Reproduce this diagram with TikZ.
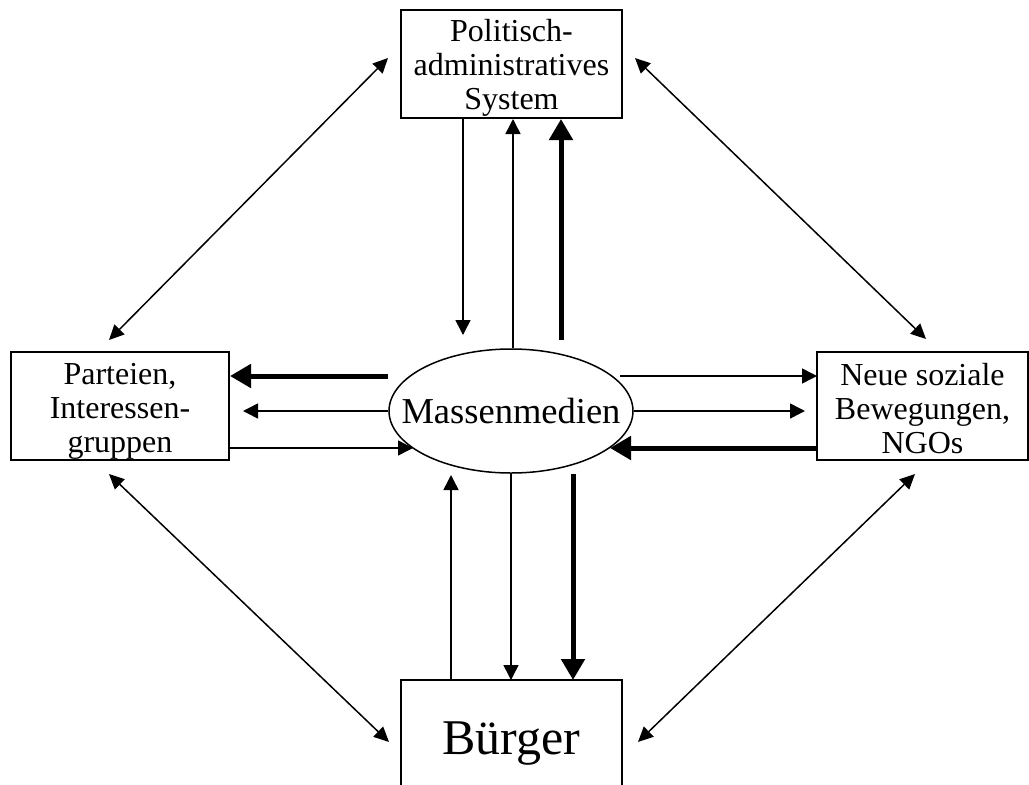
\documentclass[tikz,border=0pt]{standalone}
\usepackage{fontspec}
\setmainfont{Liberation Serif}
\usetikzlibrary{arrows.meta,shapes.geometric}
\tikzset{
  box/.style={draw, line width=1.5pt, rectangle, inner sep=0pt},
  boxtext/.style={inner sep=0pt, align=center, font=\fontsize{32}{34}\selectfont},
  thinarrow/.style={line width=1.5pt, -{Triangle[length=15pt,width=15pt]}},
  thickarrow/.style={line width=5pt, -{Triangle[length=21pt,width=23pt]}},
  twoway/.style={line width=1.5pt, {Triangle[length=15pt,width=14pt]}-{Triangle[length=15pt,width=14pt]}},
}
\begin{document}
\begin{tikzpicture}[x=1pt,y=-1pt]
\useasboundingbox (0,0) rectangle (1029,785);
\fill[white] (0,0) rectangle (1029,785);
% nodes
\node[box, minimum width=221pt, minimum height=108pt] (top) at (511.5,64) {};
\node[boxtext] (toptext) at ([yshift=-4pt]top.center) {Politisch-\\administratives\\System};
\node[box, minimum width=218pt, minimum height=108pt] (left) at (120,406) {};
\node[boxtext] (lefttext) at ([yshift=-5pt]left.center) {Parteien,\\Interessen-\\gruppen};
\node[box, minimum width=211pt, minimum height=108pt] (right) at (922.5,406) {};
\node[boxtext] (righttext) at ([yshift=-3pt]right.center) {Neue soziale\\Bewegungen,\\NGOs};
\node[box, minimum width=221pt, minimum height=130pt] (bottom) at (511.5,745) {};
\node[inner sep=0pt, font=\fontsize{50}{54}\selectfont] (bottomtext) at ([yshift=1pt]bottom.center) {Bürger};
\node[draw, line width=1.5pt, ellipse, minimum width=244pt, minimum height=124pt, inner sep=0pt] (ell) at (511,411) {};
\node[inner sep=0pt, font=\fontsize{36.5}{40}\selectfont] (elltext) at (ell.center) {Massenmedien};
% free ends
\coordinate (a1) at (463,335);
\coordinate (a2) at (513,119);
\coordinate (a3s) at (561,340);
\coordinate (a3) at (561,119);
\coordinate (b1) at (451,475);
\coordinate (b2) at (511,680);
\coordinate (b3s) at (573,474);
\coordinate (b3) at (573,680);
\coordinate (l1s) at (388,376);
\coordinate (l1) at (230,376);
\coordinate (l2) at (243,411);
\coordinate (l3) at (413,448);
\coordinate (r1s) at (620,376);
\coordinate (r1) at (817,376);
\coordinate (r2) at (805,411);
\coordinate (r3) at (610,448);
\coordinate (d1a) at (388,58);
\coordinate (d1b) at (109,340);
\coordinate (d2a) at (635,58);
\coordinate (d2b) at (926,339);
\coordinate (d3a) at (109,474);
\coordinate (d3b) at (389,742);
\coordinate (d4a) at (915,474);
\coordinate (d4b) at (638,742);
% top connectors
\draw[thinarrow] (top.south -| a1) -- (a1);
\draw[thinarrow] (ell.north -| a2) -- (a2);
\draw[thickarrow] (a3s) -- (a3);
% bottom connectors
\draw[thinarrow] (bottom.north -| b1) -- (b1);
\draw[thinarrow] (ell.south) -- (b2);
\draw[thickarrow] (b3s) -- (b3);
% left connectors
\draw[thickarrow] (l1s) -- (l1);
\draw[thinarrow] (ell.west) -- (l2);
\draw[thinarrow] (left.east |- l3) -- (l3);
% right connectors
\draw[thinarrow] (r1s) -- (r1);
\draw[thinarrow] (ell.east) -- (r2);
\draw[thickarrow] (right.west |- r3) -- (r3);
% diagonals
\draw[twoway] (d1a) -- (d1b);
\draw[twoway] (d2a) -- (d2b);
\draw[twoway] (d3a) -- (d3b);
\draw[twoway] (d4a) -- (d4b);
\end{tikzpicture}
\end{document}
